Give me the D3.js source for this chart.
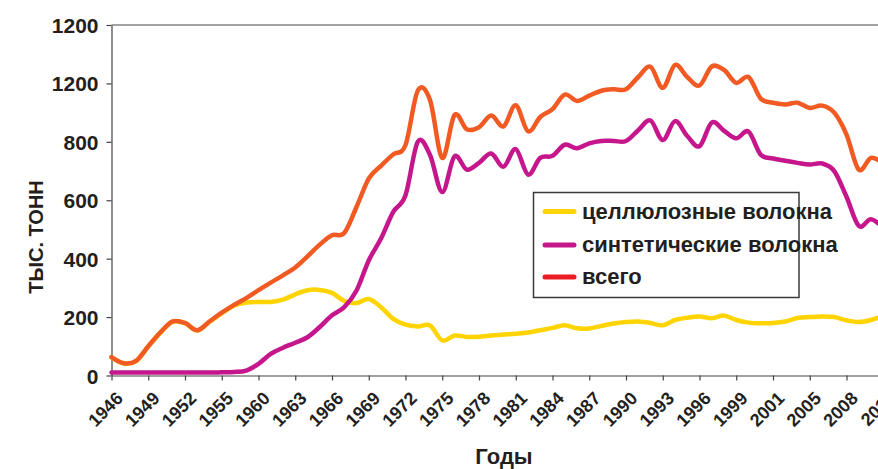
<!DOCTYPE html>
<html>
<head>
<meta charset="utf-8">
<script src="https://cdn.jsdelivr.net/npm/d3@7"></script>
<style>
  html, body { margin: 0; padding: 0; background: #fff; overflow: hidden; }
  svg { display: block; }
</style>
</head>
<body>
<svg id="chart" width="878" height="469"></svg>
<script>
// Производство химических волокон, тыс. тонн (по годам)
const xTickLabels = ["1946","1949","1952","1955","1960","1963","1966","1969","1972","1975","1978",
  "1981","1984","1987","1990","1993","1996","1999","2001","2005","2008","2011"];
const yTickValues = [0, 200, 400, 600, 800, 1000, 1200];
const yTickLabels = ["0","200","400","600","800","1200","1200"];

const cellulose = [62,41,49,99,147,184,179,154,184,213,239,250,252,252,260,278,292,293,283,255,
  248,262,234,194,174,168,171,120,137,132,133,137,140,143,147,155,163,172,162,161,
  170,178,183,185,180,172,190,198,202,196,205,190,181,179,180,185,197,200,202,200,
  189,183,190,205];
const synthetic = [10,10,10,10,10,10,10,10,10,11,12,17,40,74,95,112,131,166,206,234,
  291,394,469,560,617,800,755,628,750,705,728,760,715,775,688,745,752,790,778,795,
  803,803,803,840,873,806,871,820,785,866,838,812,835,756,743,735,728,722,726,700,
  612,512,535,505];
const total = [63,42,50,100,148,185,180,155,185,215,242,265,292,318,343,370,408,448,480,488,
  577,674,718,757,789,975,943,745,892,843,850,890,853,925,836,885,912,962,940,958,
  975,980,980,1022,1057,985,1063,1022,993,1058,1046,1002,1022,948,934,928,934,916,924,900,
  825,705,745,725];

const seriesNames = ["целлюлозные волокна", "синтетические волокна", "всего"];
const lineColors = ["#ffd400", "#c5168c", "#f15a22"];
const legendColors = ["#ffd400", "#c5168c", "#ec1c24"];

const svg = d3.select("#chart");
const plotLeft = 111.5, plotTop = 25, plotBottom = 375.5, catStep = 12.25;
const nCat = total.length;

const x = d3.scaleLinear().domain([0, nCat - 1]).range([plotLeft, plotLeft + catStep * (nCat - 1)]);
const y = d3.scaleLinear().domain([0, 1200]).range([plotBottom, plotTop]);

const tickFont = "'Liberation Sans', Arial, sans-serif";
const narrowFont = "'Liberation Sans Narrow', 'Arial Narrow', 'Liberation Sans', sans-serif";
const ink = "#231f20";

// верхняя граница области построения
svg.append("line")
  .attr("x1", plotLeft).attr("x2", 900)
  .attr("y1", plotTop).attr("y2", plotTop)
  .attr("stroke", "#444").attr("stroke-width", 1.2);

// ось Y
const yAxis = svg.append("g")
  .attr("transform", `translate(${plotLeft},0)`)
  .call(d3.axisLeft(y).tickValues(yTickValues)
    .tickFormat((d, i) => yTickLabels[i]).tickSize(5).tickSizeOuter(0));
yAxis.select(".domain").attr("stroke", "#444").attr("stroke-width", 1.2);
yAxis.selectAll(".tick line").attr("stroke", "#444").attr("stroke-width", 1.2);
yAxis.selectAll(".tick text")
  .attr("x", -13).attr("dy", "0.36em")
  .attr("font-family", tickFont).attr("font-weight", "bold")
  .attr("font-size", 21).attr("fill", ink);

// ось X (подпись на каждой третьей категории)
const xTickValues = d3.range(0, nCat, 3);
const xAxis = svg.append("g")
  .attr("transform", `translate(0,${plotBottom})`)
  .call(d3.axisBottom(x).tickValues(xTickValues)
    .tickFormat((d, i) => xTickLabels[i]).tickSize(5).tickSizeOuter(0));
xAxis.select(".domain").attr("stroke", "#444").attr("stroke-width", 1.2);
xAxis.selectAll(".tick line").attr("stroke", "#444").attr("stroke-width", 1.2);
xAxis.selectAll(".tick text")
  .attr("x", 0).attr("y", 0).attr("dy", 0)
  .attr("text-anchor", "end")
  .attr("transform", "translate(12,24) rotate(-45)")
  .attr("font-family", tickFont).attr("font-weight", "bold")
  .attr("font-size", 18).attr("fill", ink);

// названия осей
svg.append("text")
  .attr("transform", "translate(43,237) rotate(-90)")
  .attr("text-anchor", "middle")
  .attr("font-family", narrowFont).attr("font-weight", "bold")
  .attr("font-size", 20).attr("fill", ink)
  .text("ТЫС. ТОНН");
svg.append("text")
  .attr("x", 504).attr("y", 464)
  .attr("text-anchor", "middle")
  .attr("font-family", narrowFont).attr("font-weight", "bold")
  .attr("font-size", 22).attr("fill", ink)
  .text("Годы");

// линии рядов
const line = d3.line()
  .x((d, i) => x(i))
  .y(d => y(d))
  .curve(d3.curveCardinal.tension(0));

[cellulose, synthetic, total].forEach((values, k) => {
  svg.append("path")
    .datum(values)
    .attr("d", line)
    .attr("fill", "none")
    .attr("stroke", lineColors[k])
    .attr("stroke-width", 4.5)
    .attr("stroke-linejoin", "round")
    .attr("stroke-linecap", "round");
});

// легенда
const legend = svg.append("g");
legend.append("rect")
  .attr("x", 533.5).attr("y", 192.5)
  .attr("width", 265.5).attr("height", 105)
  .attr("fill", "#fff").attr("stroke", "#3a3a3a").attr("stroke-width", 1.5);
const rowY = [211.5, 245, 277];
seriesNames.forEach((name, k) => {
  legend.append("line")
    .attr("x1", 545).attr("x2", 574)
    .attr("y1", rowY[k]).attr("y2", rowY[k])
    .attr("stroke", legendColors[k]).attr("stroke-width", 5)
    .attr("stroke-linecap", "round");
  legend.append("text")
    .attr("x", 582).attr("y", rowY[k] + 7)
    .attr("font-family", narrowFont).attr("font-weight", "bold")
    .attr("font-size", 22).attr("fill", ink)
    .text(name);
});
</script>
</body>
</html>
